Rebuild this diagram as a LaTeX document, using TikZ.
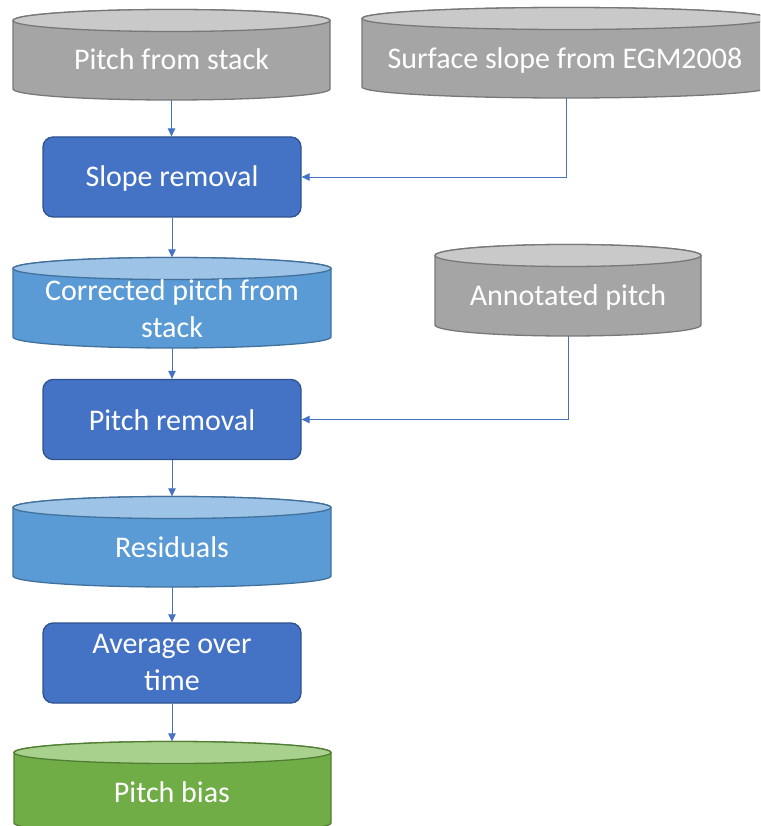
\documentclass[tikz,border=0pt]{standalone}
\usepackage{fontspec}
\setmainfont{Carlito}
\usetikzlibrary{arrows.meta}

% Office-style palette
\definecolor{grayBody}{HTML}{A5A5A5}
\definecolor{grayTop}{HTML}{C9C9C9}
\definecolor{grayLine}{HTML}{787878}
\definecolor{lblueBody}{HTML}{5B9BD5}
\definecolor{lblueTop}{HTML}{9DC3E6}
\definecolor{lblueLine}{HTML}{41719C}
\definecolor{boxFill}{HTML}{4472C4}
\definecolor{boxLine}{HTML}{2F528F}
\definecolor{greenBody}{HTML}{70AD47}
\definecolor{greenTop}{HTML}{A9D18E}
\definecolor{greenLine}{HTML}{507E32}
\definecolor{connCol}{HTML}{4472C4}

\newcommand\cylry{11}

% \dbcyl{name}{cx}{y top centre}{y bottom centre}{half width}{body}{top}{line}
\newcommand\dbcyl[8]{%
  \path[fill=#6, draw=#8, line width=1.3pt]
    (#2-#5,#3) -- (#2-#5,#4)
    arc[start angle=180, end angle=360, x radius=#5pt, y radius=\cylry pt]
    -- (#2+#5,#3)
    arc[start angle=0, end angle=180, x radius=#5pt, y radius=\cylry pt]
    -- cycle;
  \path[fill=#7, draw=#8, line width=1.3pt]
    (#2,#3) ellipse[x radius=#5pt, y radius=\cylry pt];
  \node[inner sep=0pt, minimum width={2*#5*1pt},
        minimum height={(#4-#3+2*\cylry)*1pt}]
    (#1) at (#2,{(#3+#4)/2}) {};
}

\tikzset{
  x=1pt, y=-1pt,
  label text/.style={text=white, font=\fontsize{30}{36}\selectfont,
    inner sep=0pt, anchor=base, align=center},
  procbox/.style={draw=boxLine, fill=boxFill, line width=1.3pt,
    rounded corners=10pt, minimum width=258pt, minimum height=80pt,
    inner sep=0pt},
  conn/.style={draw=connCol, line width=0.9pt,
    -{Triangle[length=8pt, width=7.5pt]}},
}

\begin{document}
\begin{tikzpicture}
  \clip (0,0) rectangle (760,826);
  \fill[white] (0,0) rectangle (760,826);

  % data stores
  \dbcyl{pfs}{171.5}{20.5}{89}{158.5}{grayBody}{grayTop}{grayLine}
  \dbcyl{egm}{566}{18.5}{87}{204}{grayBody}{grayTop}{grayLine}
  \dbcyl{cpfs}{172}{268.5}{337}{159}{lblueBody}{lblueTop}{lblueLine}
  \dbcyl{ann}{568}{255.5}{325}{133}{grayBody}{grayTop}{grayLine}
  \dbcyl{res}{172}{507.5}{576}{159}{lblueBody}{lblueTop}{lblueLine}
  \dbcyl{bias}{172.5}{752.5}{823}{158.5}{greenBody}{greenTop}{greenLine}

  % processing steps
  \node[procbox] (slope) at (172,177) {};
  \node[procbox] (pitchrem) at (172,419.5) {};
  \node[procbox] (avg) at (172,663) {};

  % texts
  \node[label text] at (171.5,70) {Pitch from stack};
  \node[label text] at (565,69) {Surface slope from EGM2008};
  \node[label text] at (172,187) {Slope removal};
  \node[label text] at (172,300) {Corrected pitch from};
  \node[label text] at (172,337) {stack};
  \node[label text] at (568,305) {Annotated pitch};
  \node[label text] at (172,430) {Pitch removal};
  \node[label text] at (172,557) {Residuals};
  \node[label text] at (172,653) {Average over};
  \node[label text] at (172,690) {time};
  \node[label text] at (172,802) {Pitch bias};

  % connectors
  \draw[conn] (pfs.south) -- (pfs.south |- slope.north);
  \draw[conn] (egm.south) |- (slope.east);
  \draw[conn] (slope.south) -- (slope.south |- cpfs.north);
  \draw[conn] (cpfs.south) -- (cpfs.south |- pitchrem.north);
  \draw[conn] (ann.south) |- (pitchrem.east);
  \draw[conn] (pitchrem.south) -- (pitchrem.south |- res.north);
  \draw[conn] (res.south) -- (res.south |- avg.north);
  \draw[conn] (avg.south) -- (avg.south |- bias.north);
\end{tikzpicture}
\end{document}
